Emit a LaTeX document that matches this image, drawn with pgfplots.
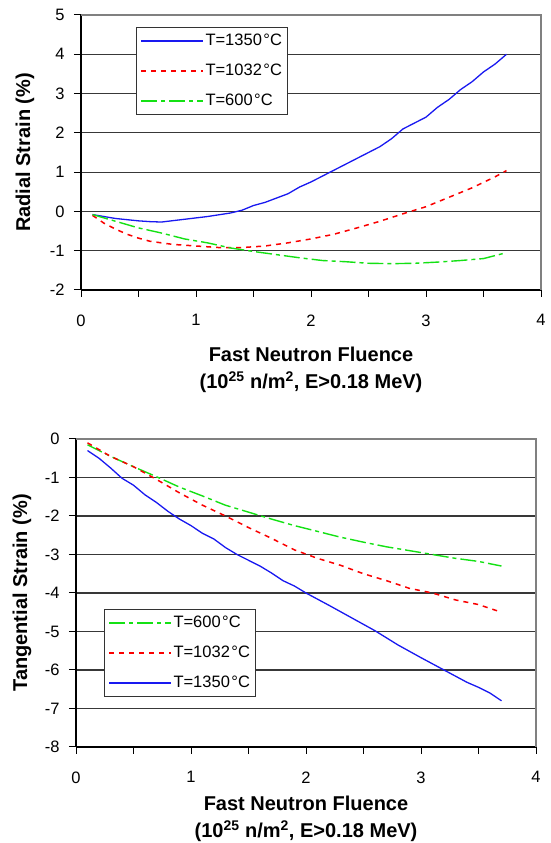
\documentclass[border=0pt]{standalone}
\usepackage{fontspec}
\setmainfont{Liberation Sans}
\usepackage{pgfplots}
\pgfplotsset{compat=1.18}

\definecolor{cblue}{RGB}{25,25,240}
\definecolor{cred}{RGB}{250,0,0}
\definecolor{cgreen}{RGB}{20,225,20}

\pgfplotsset{
  mystyle/.style={
    scale only axis, width=460pt,
    xmin=0, xmax=4,
    xtick={0,0.5,...,4}, xticklabels={0,,1,,2,,3,,4},
    axis x line*=bottom, axis y line*=left,
    xtick align=outside, ytick align=outside, major tick length=7pt,
    axis line style={black, line width=1.6pt},
    ymajorgrids, grid style={black!78, line width=1.1pt},
    tick style={black, line width=1pt},
    ticklabel style={font=\fontsize{16.5}{19}\selectfont},
    xticklabel style={yshift=-14pt},
    yticklabel style={xshift=-6pt},
    xlabel style={font=\fontsize{20}{27}\selectfont\bfseries, align=center, at={(rel axis cs:0.5,0)}, anchor=north, inner sep=0pt},
    ylabel style={font=\fontsize{20}{24}\selectfont\bfseries, anchor=center, inner sep=0pt},
    after end axis/.code={\draw[black!50, line width=1.5pt] (rel axis cs:0,1) -- (rel axis cs:1,1) -- (rel axis cs:1,0);},
    legend cell align=left,
    legend image code/.code={\draw[#1] (0pt,0pt) -- (62pt,0pt);},
    legend style={draw=black!80, line width=1pt, fill=white,
      font=\fontsize{16.5}{19}\selectfont, inner xsep=4pt, inner ysep=5pt,
      nodes={inner xsep=1.5pt, inner ysep=1pt, text height=12pt, text depth=3pt},
      row sep=13pt},
  },
  l1350/.style={cblue, line width=1.3pt},
  l1032/.style={cred, line width=1.5pt, dash pattern=on 5pt off 5pt},
  l600/.style={cgreen, line width=1.4pt, dash pattern=on 16pt off 4pt on 4pt off 4pt},
}

\begin{document}
\begin{tikzpicture}
\useasboundingbox (0,0) rectangle (550pt,843pt);

% ---------- Top: radial strain ----------
\begin{axis}[mystyle,
  at={(81pt,553pt)}, anchor=south west, height=275pt,
  ymin=-2, ymax=5, ytick={-2,-1,0,1,2,3,4,5},
  yticklabels={-2,-1,0,1,2,3,4,5},
  xlabel={Fast Neutron Fluence\\(10\textsuperscript{25} n/m\textsuperscript{2}, E>0.18 MeV)},
  xlabel style={yshift=-57pt},
  ylabel={Radial Strain (\%)},
  ylabel style={at={(axis description cs:-0.1217,0.5)}},
  legend style={at={(rel axis cs:0.1196,0.956)}, anchor=north west},
]
\addplot[l1350] coordinates {
(0.1,-0.08)(0.3,-0.18)(0.5,-0.24)(0.6,-0.26)(0.7,-0.27)(0.9,-0.2)(1.1,-0.13)
(1.3,-0.04)(1.4,0.03)(1.5,0.15)(1.6,0.23)(1.8,0.45)(1.9,0.62)(2.0,0.75)
(2.1,0.9)(2.2,1.05)(2.3,1.2)(2.4,1.35)(2.5,1.5)(2.6,1.65)(2.7,1.85)(2.8,2.1)
(2.9,2.25)(3.0,2.4)(3.1,2.65)(3.2,2.85)(3.3,3.1)(3.4,3.3)(3.5,3.55)(3.6,3.75)(3.7,4.0)};
\addlegendentry{T=1350\kern1.5pt°C}
\addplot[l1032] coordinates {
(0.1,-0.1)(0.2,-0.3)(0.3,-0.45)(0.4,-0.58)(0.5,-0.68)(0.6,-0.76)(0.7,-0.8)
(0.8,-0.84)(1.0,-0.88)(1.2,-0.92)(1.4,-0.92)(1.6,-0.88)(1.8,-0.8)(2.0,-0.7)
(2.2,-0.58)(2.4,-0.42)(2.6,-0.25)(2.8,-0.06)(3.0,0.12)(3.2,0.36)(3.4,0.6)
(3.6,0.88)(3.7,1.04)};
\addlegendentry{T=1032\kern1.5pt°C}
\addplot[l600] coordinates {
(0.1,-0.08)(0.3,-0.25)(0.5,-0.42)(0.7,-0.55)(0.9,-0.7)(1.1,-0.8)(1.3,-0.93)
(1.5,-1.02)(1.7,-1.1)(1.9,-1.18)(2.1,-1.25)(2.3,-1.28)(2.5,-1.32)(2.7,-1.33)
(2.9,-1.32)(3.1,-1.29)(3.3,-1.25)(3.5,-1.2)(3.7,-1.05)};
\addlegendentry{T=600\kern1.5pt°C}
\end{axis}

% ---------- Bottom: tangential strain ----------
\begin{axis}[mystyle,
  at={(76pt,96pt)}, anchor=south west, height=308pt,
  ymin=-8, ymax=0, ytick={-8,-7,-6,-5,-4,-3,-2,-1,0},
  yticklabels={-8,-7,-6,-5,-4,-3,-2,-1,0},
  xlabel={Fast Neutron Fluence\\(10\textsuperscript{25} n/m\textsuperscript{2}, E>0.18 MeV)},
  xlabel style={yshift=-49pt},
  ylabel={Tangential Strain (\%)},
  ylabel style={at={(axis description cs:-0.1174,0.5)}},
  legend style={at={(rel axis cs:0.0609,0.162)}, anchor=south west},
]
\addplot[l600] coordinates {
(0.1,-0.15)(0.3,-0.45)(0.5,-0.72)(0.7,-0.98)(0.9,-1.25)(1.1,-1.48)(1.3,-1.72)
(1.5,-1.9)(1.7,-2.08)(1.9,-2.25)(2.1,-2.4)(2.3,-2.55)(2.5,-2.68)(2.7,-2.8)
(2.9,-2.9)(3.1,-3.0)(3.3,-3.1)(3.5,-3.18)(3.7,-3.3)};
\addlegendentry{T=600\kern1.5pt°C}
\addplot[l1032] coordinates {
(0.1,-0.1)(0.3,-0.45)(0.5,-0.72)(0.7,-1.05)(0.9,-1.4)(1.1,-1.72)(1.3,-2.0)
(1.5,-2.3)(1.7,-2.58)(1.9,-2.88)(2.1,-3.1)(2.3,-3.28)(2.5,-3.5)(2.7,-3.68)
(2.9,-3.88)(3.1,-4.0)(3.3,-4.18)(3.5,-4.3)(3.7,-4.5)};
\addlegendentry{T=1032\kern1.5pt°C}
\addplot[l1350] coordinates {
(0.1,-0.3)(0.2,-0.5)(0.3,-0.75)(0.4,-1.02)(0.5,-1.2)(0.6,-1.45)(0.7,-1.65)
(0.8,-1.88)(0.9,-2.08)(1.0,-2.25)(1.1,-2.45)(1.2,-2.6)(1.3,-2.82)(1.4,-3.0)
(1.5,-3.15)(1.6,-3.3)(1.7,-3.48)(1.8,-3.68)(1.9,-3.82)(2.0,-4.0)(2.2,-4.32)
(2.4,-4.65)(2.6,-4.98)(2.8,-5.35)(3.0,-5.68)(3.2,-6.0)(3.4,-6.32)(3.5,-6.45)
(3.6,-6.6)(3.7,-6.8)};
\addlegendentry{T=1350\kern1.5pt°C}
\end{axis}
\end{tikzpicture}
\end{document}
